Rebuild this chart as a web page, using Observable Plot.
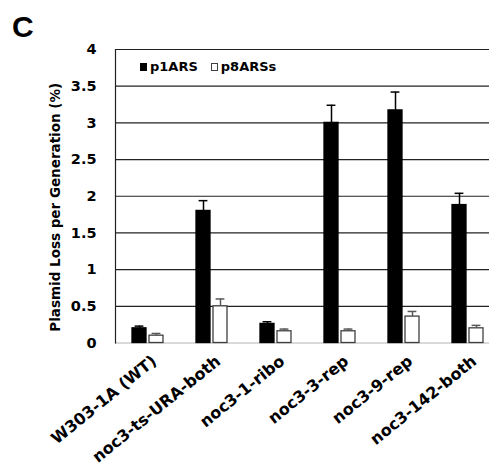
<!DOCTYPE html>
<html>
<head>
<meta charset="utf-8">
<script src="https://cdn.jsdelivr.net/npm/d3@7"></script>
<script src="https://cdn.jsdelivr.net/npm/@observablehq/plot@0.6"></script>
<style>
  html, body { margin: 0; padding: 0; background: #fff; overflow: hidden; }
  #wrap { position: relative; width: 489px; height: 465px; overflow: hidden; background: #fff; }
  #chart svg { max-width: none !important; width: 500px !important; height: 465px !important; }
  #panel { position: absolute; left: 12px; top: 10px; font: bold 30px "Liberation Sans", Arial, sans-serif; color: #000; }
  #legend { position: absolute; left: 140px; top: 59px; font: bold 13px "DejaVu Sans", sans-serif; color: #000; display: flex; align-items: center; white-space: nowrap; }
  #legend .key { display: inline-block; width: 7px; height: 8px; margin-right: 3px; box-sizing: border-box; }
  #legend .item { display: inline-flex; align-items: center; margin-right: 13px; }
</style>
</head>
<body>
<div id="wrap">
  <div id="chart"></div>
  <div id="panel">C</div>
  <div id="legend"></div>
</div>
<script>
// ---- data ----
const categories = ["W303-1A (WT)", "noc3-ts-URA-both", "noc3-1-ribo", "noc3-3-rep", "noc3-9-rep", "noc3-142-both"];
const seriesNames = ["p1ARS", "p8ARSs"];
const p1ARS    = [0.20, 1.80, 0.26, 3.00, 3.17, 1.88];
const p1ARSerr = [0.03, 0.14, 0.03, 0.24, 0.25, 0.16];
const p8ARSs    = [0.10, 0.50, 0.16, 0.16, 0.36, 0.20];
const p8ARSserr = [0.03, 0.10, 0.03, 0.03, 0.07, 0.04];
const yTicks = [0, 0.5, 1, 1.5, 2, 2.5, 3, 3.5, 4];
const yTitle = "Plasmid Loss per Generation (%)";

const rows = categories.flatMap((c, i) => [
  {cat: c, series: "p1ARS", value: p1ARS[i], err: p1ARSerr[i]},
  {cat: c, series: "p8ARSs", value: p8ARSs[i], err: p8ARSserr[i]}
]);

const edge = s => s === "p1ARS" ? "#000" : "#3f3f3f";
const errColor = s => s === "p1ARS" ? "#000" : "#595959";

const chart = Plot.plot({
  width: 500,
  height: 465,
  marginTop: 49,
  marginBottom: 122.5,
  marginLeft: 113,
  marginRight: 0,
  style: {fontFamily: "DejaVu Sans, sans-serif", fontWeight: "bold", color: "#000", background: "#fff", overflow: "visible", maxWidth: "none"},
  fx: {domain: categories, padding: 0},
  x: {domain: seriesNames, paddingInner: 0.19, paddingOuter: 0.89, axis: null},
  y: {domain: [0, 4]},
  color: {domain: seriesNames, range: ["#000", "#fff"]},
  marks: [
    Plot.ruleY(yTicks.filter(d => d > 0), {stroke: "#222", strokeWidth: 1.2}),
    Plot.ruleY([0], {stroke: "#d9d9d9", strokeWidth: 2}),
    Plot.frame({anchor: "left", facetAnchor: "left", stroke: "#222", strokeWidth: 1.2}),
    Plot.barY(rows, {fx: "cat", x: "series", y: "value", fill: "series", stroke: d => edge(d.series), strokeWidth: 1.3}),
    Plot.ruleX(rows, {fx: "cat", x: "series", y1: "value", y2: d => d.value + d.err, stroke: d => errColor(d.series), strokeWidth: 1.5}),
    Plot.tickY(rows, {fx: "cat", x: "series", y: d => d.value + d.err, insetLeft: 2.6, insetRight: 2.6, stroke: d => errColor(d.series), strokeWidth: 1.5}),
    Plot.axisY({ticks: yTicks, tickFormat: d => String(d), tickSize: 0, tickPadding: 19, fontSize: 14.5, label: null}),
    Plot.axisFx({anchor: "bottom", tickRotate: -39, tickSize: 0, tickPadding: 12, fontSize: 16, dx: 7, dy: 4, label: null}),
    Plot.text([yTitle], {text: d => d, frameAnchor: "left", textAnchor: "middle", lineAnchor: "middle", rotate: -90, dx: -60, dy: 11, fontSize: 13.5, fontWeight: "bold", fill: "#000", facetAnchor: "left"})
  ]
});
document.getElementById("chart").appendChild(chart);

// legend built from the series names
const legend = document.getElementById("legend");
seriesNames.forEach((s, i) => {
  const item = document.createElement("span");
  item.className = "item";
  const key = document.createElement("span");
  key.className = "key";
  key.style.background = i === 0 ? "#000" : "#fff";
  key.style.border = "1px solid " + (i === 0 ? "#000" : "#404040");
  item.appendChild(key);
  item.appendChild(document.createTextNode(s));
  legend.appendChild(item);
});
</script>
</body>
</html>
